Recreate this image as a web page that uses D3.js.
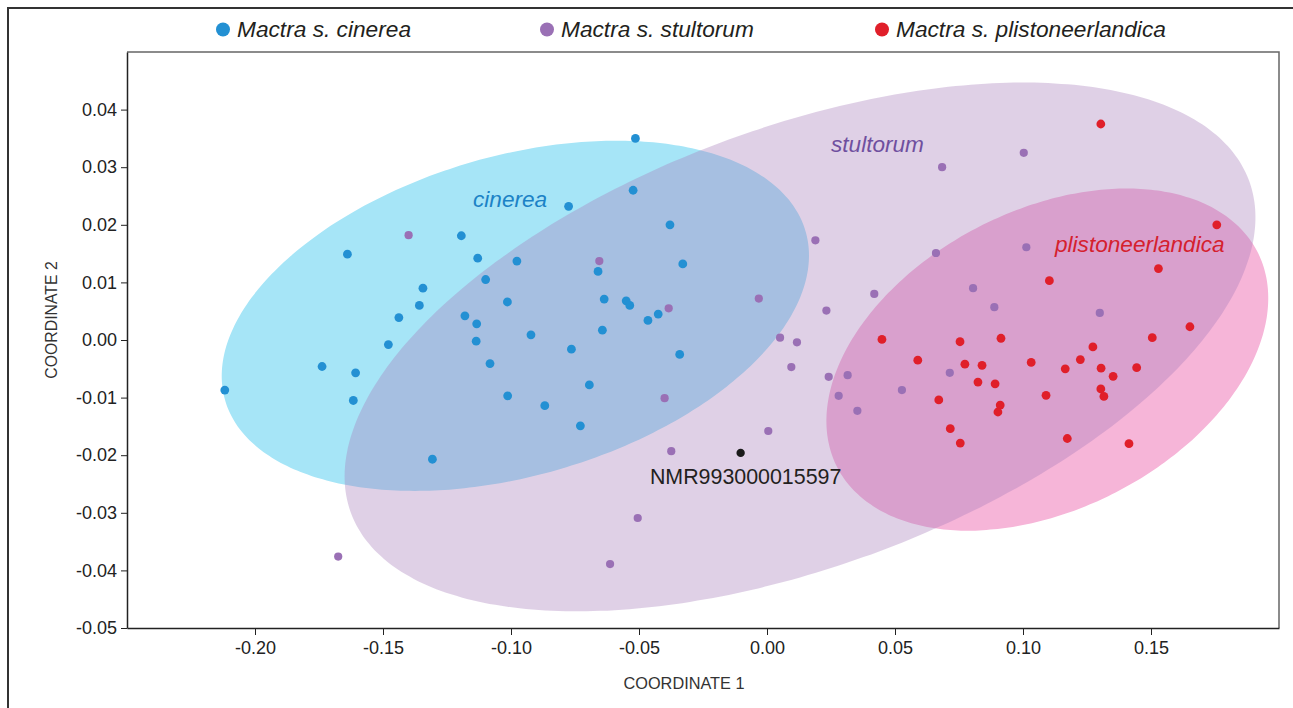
<!DOCTYPE html>
<html>
<head>
<meta charset="utf-8">
<script src="https://cdn.jsdelivr.net/npm/d3@7"></script>
<style>
  html, body { margin: 0; padding: 0; background: #fff; }
  svg { display: block; font-family: "Liberation Sans", Arial, sans-serif; }
</style>
</head>
<body>
<svg id="chart" width="1293" height="708"></svg>
<script>
// ---------- data ----------
const groups = ["Mactra s. cinerea", "Mactra s. stultorum", "Mactra s. plistoneerlandica"];
const groupLabels = ["cinerea", "stultorum", "plistoneerlandica"];

const cinereaX = [-0.2118,-0.1738,-0.1639,-0.1607,-0.1616,-0.1479,-0.1438,-0.1358,-0.1344,-0.1307,
  -0.1194,-0.1180,-0.1130,-0.1134,-0.1136,-0.1099,-0.1082,-0.1013,-0.1014,-0.0977,
  -0.0922,-0.0868,-0.0775,-0.0764,-0.0729,-0.0694,-0.0660,-0.0643,-0.0636,-0.0550,
  -0.0536,-0.0514,-0.0523,-0.0465,-0.0425,-0.0379,-0.0329,-0.0341];
const cinereaY = [-0.0087,-0.0046,0.0149,-0.0057,-0.0105,-0.0008,0.0039,0.0060,0.0090,-0.0207,
  0.0181,0.0042,0.0142,0.0028,-0.0002,0.0105,-0.0041,-0.0097,0.0066,0.0137,
  0.0009,-0.0114,0.0232,-0.0016,-0.0149,-0.0078,0.0119,0.0017,0.0071,0.0068,
  0.0060,0.0350,0.0260,0.0034,0.0045,0.0200,0.0132,-0.0025];

const stultorumX = [-0.1400,-0.0655,-0.0384,0.0189,-0.0032,0.0419,0.0232,0.0051,0.0117,0.0684,
  0.1003,0.1013,0.0660,0.0805,0.0888,0.1300,-0.0400,-0.0374,0.0005,-0.0505,
  -0.0613,0.0095,0.0241,0.0315,0.0280,0.0353,-0.1675,0.0714,0.0527];
const stultorumY = [0.0182,0.0137,0.0055,0.0173,0.0072,0.0080,0.0051,0.0004,-0.0004,0.0300,
  0.0325,0.0161,0.0151,0.0090,0.0057,0.0047,-0.0101,-0.0193,-0.0158,-0.0309,
  -0.0389,-0.0047,-0.0064,-0.0061,-0.0097,-0.0123,-0.0376,-0.0057,-0.0087];

const plistoX = [0.1304,0.1757,0.1529,0.1103,0.1652,0.1505,0.0914,0.0754,0.0449,0.0589,
  0.0773,0.0840,0.1032,0.1165,0.1224,0.1273,0.1305,0.1352,0.1444,0.0824,
  0.0891,0.1090,0.1304,0.1316,0.0671,0.0911,0.0902,0.0716,0.0755,0.1173,0.1414];
const plistoY = [0.0375,0.0200,0.0124,0.0103,0.0023,0.0004,0.0003,-0.0003,0.0001,-0.0035,
  -0.0042,-0.0044,-0.0039,-0.0050,-0.0034,-0.0012,-0.0049,-0.0063,-0.0048,-0.0073,
  -0.0076,-0.0096,-0.0085,-0.0098,-0.0104,-0.0113,-0.0125,-0.0154,-0.0179,-0.0171,-0.0180];

const specimenName = "NMR993000015597";
const specimenX = [-0.0103];
const specimenY = [-0.0196];

// confidence ellipses: centre, half-extent on each axis, correlation
const ellipseCX = [-0.0983, 0.0129, 0.1095];
const ellipseCY = [0.0042, -0.0012, -0.0034];
const ellipseSX = [0.1147, 0.1779, 0.0863];
const ellipseSY = [0.0304, 0.0459, 0.0297];
const ellipseR  = [0.344, 0.490, 0.359];

const xTicks = [-0.20,-0.15,-0.10,-0.05,0.00,0.05,0.10,0.15];
const xTickLabels = ["-0.20","-0.15","-0.10","-0.05","0.00","0.05","0.10","0.15"];
const yTicks = [-0.05,-0.04,-0.03,-0.02,-0.01,0.00,0.01,0.02,0.03,0.04];
const yTickLabels = ["-0.05","-0.04","-0.03","-0.02","-0.01","0.00","0.01","0.02","0.03","0.04"];

// ---------- styles ----------
const pointColors = ["#2390d3", "#9a70b5", "#e01f2a"];
const labelColors = ["#1c82c6", "#6f4f9f", "#d5202e"];
const fillColors  = ["#a6e5f7", "rgb(166,124,186)", "#f6b5d8"];
const fillOpacity = [1, 0.36, 1];

const svg = d3.select("#chart");
const m = { left: 127, right: 1279, top: 52, bottom: 628 };

const x = d3.scaleLinear().domain([-0.25, 0.20]).range([m.left, m.right]);
const y = d3.scaleLinear().domain([-0.05, 0.05]).range([m.bottom, m.top]);

// outer frame
svg.append("rect").attr("x", 8).attr("y", 8).attr("width", 1320).attr("height", 740)
  .attr("fill", "none").attr("stroke", "#333").attr("stroke-width", 2);

svg.append("defs").append("clipPath").attr("id", "plotclip")
  .append("rect").attr("x", m.left).attr("y", m.top)
  .attr("width", m.right - m.left).attr("height", m.bottom - m.top);

// ellipses
function ellipsePts(i) {
  const pts = [];
  const k = Math.sqrt(1 - ellipseR[i] * ellipseR[i]);
  for (let j = 0; j < 180; j++) {
    const t = j / 180 * 2 * Math.PI;
    const dx = ellipseCX[i] + ellipseSX[i] * Math.cos(t);
    const dy = ellipseCY[i] + ellipseSY[i] * (ellipseR[i] * Math.cos(t) + k * Math.sin(t));
    pts.push([x(dx), y(dy)]);
  }
  return pts;
}
const line = d3.line().curve(d3.curveCardinalClosed);
const gE = svg.append("g").attr("clip-path", "url(#plotclip)");
[0, 2, 1].forEach(i => {
  gE.append("path").attr("d", line(ellipsePts(i)))
    .attr("fill", fillColors[i]).attr("fill-opacity", fillOpacity[i]).attr("stroke", "none");
});

// plot box
svg.append("path")
  .attr("d", `M${m.left},${m.top}H${m.right}V${m.bottom}`)
  .attr("fill", "none").attr("stroke", "#666").attr("stroke-width", 1.5);

// axes
const xAxis = d3.axisBottom(x).tickValues(xTicks).tickFormat((d, i) => xTickLabels[i])
  .tickSizeOuter(0).tickSizeInner(7).tickPadding(6);
const gx = svg.append("g").attr("transform", `translate(0,${m.bottom})`).call(xAxis);
gx.select(".domain").attr("stroke", "#222").attr("stroke-width", 1.5);
gx.selectAll(".tick line").attr("stroke", "#222");
gx.selectAll("text").attr("font-size", 18).attr("fill", "#222").attr("font-family", "Liberation Sans, Arial, sans-serif");

const yAxis = d3.axisLeft(y).tickValues(yTicks).tickFormat((d, i) => yTickLabels[i])
  .tickSizeOuter(0).tickSizeInner(6).tickPadding(4);
const gy = svg.append("g").attr("transform", `translate(${m.left},0)`).call(yAxis);
gy.select(".domain").attr("stroke", "#222").attr("stroke-width", 1.5);
gy.selectAll(".tick line").attr("stroke", "#222");
gy.selectAll("text").attr("font-size", 18).attr("fill", "#222").attr("font-family", "Liberation Sans, Arial, sans-serif");

// axis titles
svg.append("text").attr("x", 684).attr("y", 689).attr("text-anchor", "middle")
  .attr("font-size", 16.3).attr("fill", "#333").text("COORDINATE 1");
svg.append("text").attr("transform", "translate(57,320) rotate(-90)").attr("text-anchor", "middle")
  .attr("font-size", 15.8).attr("fill", "#333").text("COORDINATE 2");

// points
const series = [[cinereaX, cinereaY], [stultorumX, stultorumY], [plistoX, plistoY]];
series.forEach((s, i) => {
  const pts = s[0].map((v, j) => [v, s[1][j]]);
  svg.append("g").selectAll("circle").data(pts).join("circle")
    .attr("cx", d => x(d[0])).attr("cy", d => y(d[1]))
    .attr("r", i === 1 ? 4.1 : 4.4).attr("fill", pointColors[i]);
});
svg.append("g").selectAll("circle").data(specimenX.map((v, j) => [v, specimenY[j]])).join("circle")
  .attr("cx", d => x(d[0])).attr("cy", d => y(d[1])).attr("r", 4.2).attr("fill", "#1a1a1a");
svg.append("text").attr("x", x(specimenX[0]) + 5).attr("y", y(specimenY[0]) + 31)
  .attr("text-anchor", "middle").attr("font-size", 21.4).attr("fill", "#231f20").text(specimenName);

// ellipse labels
const labelPos = [[473, 207], [831, 152], [1055, 252]];
groupLabels.forEach((t, i) => {
  svg.append("text").attr("x", labelPos[i][0]).attr("y", labelPos[i][1])
    .attr("font-size", 22.6).attr("font-style", "italic").attr("fill", labelColors[i]).text(t);
});

// legend
const legendX = [223, 547, 882];
groups.forEach((g, i) => {
  svg.append("circle").attr("cx", legendX[i]).attr("cy", 29.5).attr("r", 7).attr("fill", pointColors[i]);
  svg.append("text").attr("x", legendX[i] + 14).attr("y", 37).attr("font-size", 22.7)
    .attr("font-style", "italic").attr("fill", "#231f20").text(g);
});
</script>
</body>
</html>
